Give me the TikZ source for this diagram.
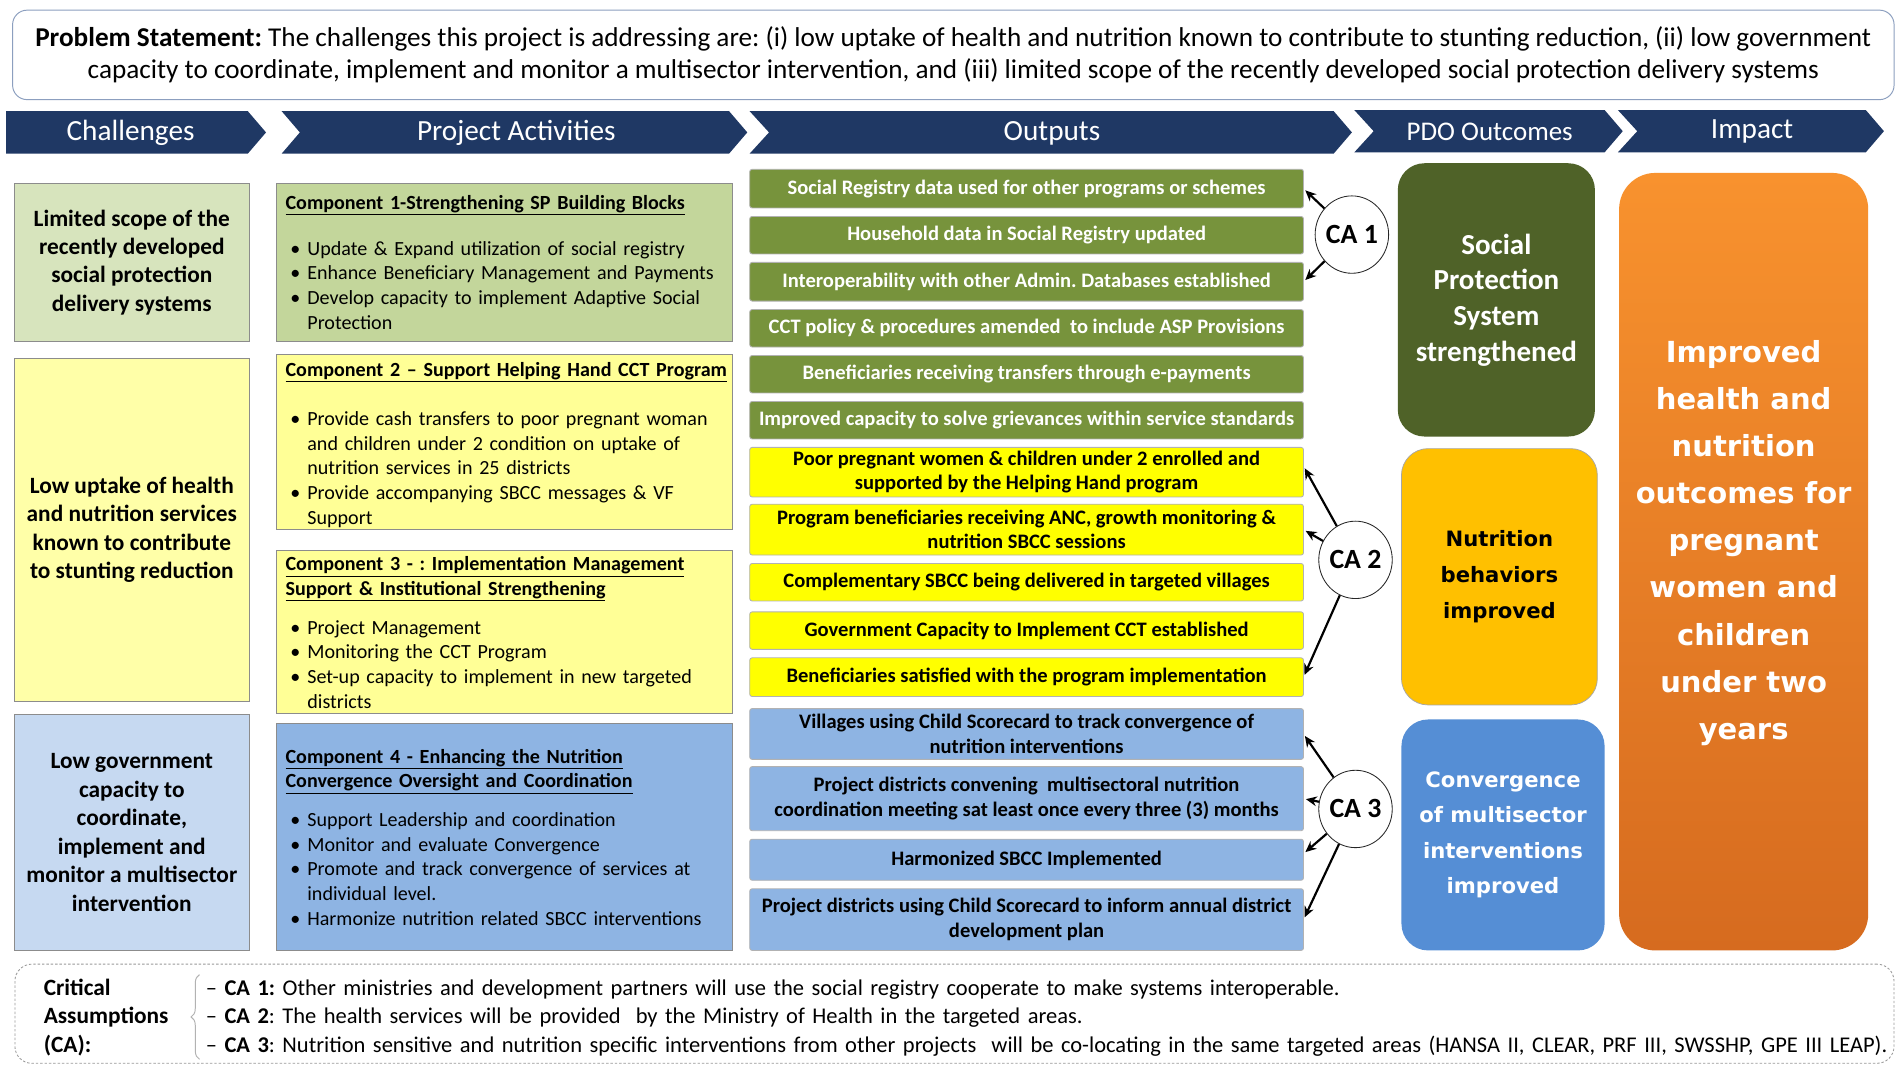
\documentclass[tikz,border=0pt]{standalone}
\usepackage{fontspec}
\setmainfont{Carlito}
\newfontfamily\dvs{DejaVu Sans}
\usetikzlibrary{shapes.geometric,arrows.meta,decorations.pathreplacing,shadings}

\definecolor{navy}{HTML}{1F3864}
\definecolor{probline}{HTML}{8C9FBF}
\definecolor{chgreen}{HTML}{D7E4BD}
\definecolor{chyellow}{HTML}{FFFFA8}
\definecolor{chblue}{HTML}{C6D9F1}
\definecolor{acgreen}{HTML}{C3D69B}
\definecolor{acyellow}{HTML}{FFFF96}
\definecolor{acblue}{HTML}{8EB4E3}
\definecolor{ougreen}{HTML}{77933C}
\definecolor{ouyellow}{HTML}{FFFF00}
\definecolor{oublue}{HTML}{8EB4E3}
\definecolor{pdogreen}{HTML}{4F6228}
\definecolor{pdoyellow}{HTML}{FFC000}
\definecolor{pdoblue}{HTML}{558ED5}
\definecolor{imptop}{HTML}{F8922E}
\definecolor{impbot}{HTML}{D66B1F}

\newcommand{\fs}[2]{\fontsize{#1}{#2}\selectfont}
\newcommand{\bul}{\makebox[18pt][l]{\hspace{4pt}\textbullet}}
\newcommand{\ind}{\hspace*{18pt}}
\frenchspacing

\begin{document}
\begin{tikzpicture}[x=1pt,y=-1pt,
  box/.style={draw=black!45, line width=0.7pt, inner sep=0pt, outer sep=0pt,
    anchor=north west, align=center},
  chbox/.style={box, minimum width=194pt, font=\bfseries\fs{19.3}{23.5}},
  acbox/.style={box, minimum width=377pt},
  actext/.style={anchor=base west, inner sep=0pt, text width=365pt, align=left,
    font=\fs{16.6}{20.4}},
  outbox/.style={box, draw=black!30, rounded corners=2pt, minimum width=458pt,
    font=\bfseries\fs{17}{20.2}},
  pdo/.style={inner sep=0pt, outer sep=0pt, anchor=north west, align=center,
    rounded corners=22pt},
  ca/.style={ellipse, draw=black!85, fill=white, line width=0.7pt,
    minimum width=60pt, minimum height=64pt, inner sep=0pt,
    font=\bfseries\fs{23}{26}},
  arr/.style={-{Stealth[length=9pt,width=8pt]}, line width=1.8pt, shorten >=2pt},
  head/.style={text=white, inner sep=0pt, font=\fs{24.2}{28}}
]
\useasboundingbox (0,0) rectangle (1568,881);
\fill[white] (0,0) rectangle (1568,881);

% problem statement
\node[draw=probline, line width=0.8pt, rounded corners=12pt, anchor=north west,
  minimum width=1556pt, minimum height=74pt, inner sep=0pt, align=center,
  font=\fs{22.5}{27}] (prob) at (10,8)
  {\textbf{Problem Statement:} The challenges this project is addressing are: (i) low uptake of health and nutrition known to contribute to stunting reduction, (ii) low government\\
   capacity to coordinate, implement and monitor a multisector intervention, and (iii) limited scope of the recently developed social protection delivery systems};

% header chevrons
\fill[navy] (5,92) -- (205,92) -- (220,109.5) -- (205,127) -- (5,127) -- cycle;
\fill[navy] (233,92) -- (603,92) -- (618,109.5) -- (603,127) -- (233,127) -- (248,109.5) -- cycle;
\fill[navy] (620,92) -- (1103,92) -- (1118,109.5) -- (1103,127) -- (620,127) -- (636,109.5) -- cycle;
\fill[navy] (1120,91) -- (1327,91) -- (1342,108.5) -- (1327,126) -- (1120,126) -- (1136,108.5) -- cycle;
\fill[navy] (1338,91) -- (1543,91) -- (1558,108.5) -- (1543,126) -- (1338,126) -- (1354,108.5) -- cycle;
\node[head] (h1) at (108,110) {Challenges};
\node[head] (h2) at (427,110) {Project Activities};
\node[head] (h3) at (870,110) {Outputs};
\node[head, font=\fs{22.3}{26}] (h4) at (1232,109) {PDO Outcomes};
\node[head] (h5) at (1449,109) {Impact};

% challenges
\node[chbox, fill=chgreen, minimum height=130pt] (c1) at (12,152)
  {Limited scope of the\\recently developed\\social protection\\delivery systems};
\node[chbox, fill=chyellow, minimum height=284pt] (c2) at (12,296)
  {Low uptake of health\\and nutrition services\\known to contribute\\to stunting reduction};
\node[chbox, fill=chblue, minimum height=195pt] (c3) at (12,591)
  {Low government\\capacity to\\coordinate,\\implement and\\monitor a multisector\\intervention};

% project activities
\node[acbox, fill=acgreen, minimum height=130pt] (a1) at (229,152) {};
\node[acbox, fill=acyellow, minimum height=145pt] (a2) at (229,293) {};
\node[acbox, fill=acyellow, minimum height=135pt] (a3) at (229,455) {};
\node[acbox, fill=acblue, minimum height=188pt] (a4) at (229,598) {};

\node[actext] (a1t) at (236,173)
  {\underline{\textbf{Component 1-Strengthening SP Building Blocks}}\\[17.5pt]
   \bul Update \& Expand utilization of social registry\\
   \bul Enhance Beneficiary Management and Payments\\
   \bul Develop capacity to implement Adaptive Social\\
   \ind Protection};
\node[actext] (a2t) at (236,311)
  {\underline{\textbf{Component 2 – Support Helping Hand CCT Program}}\\[20.6pt]
   \bul Provide cash transfers to poor pregnant woman\\
   \ind and children under 2 condition on uptake of\\
   \ind nutrition services in 25 districts\\
   \bul Provide accompanying SBCC messages \& VF\\
   \ind Support};
\node[actext] (a3t) at (236,472)
  {\underline{\textbf{Component 3 - : Implementation Management}}\\
   \underline{\textbf{Support \& Institutional Strengthening}}\\[11.6pt]
   \bul Project Management\\
   \bul Monitoring the CCT Program\\
   \bul Set-up capacity to implement in new targeted\\
   \ind districts};
\node[actext] (a4t) at (236,631)
  {\underline{\textbf{Component 4 - Enhancing the Nutrition}}\\
   \underline{\textbf{Convergence Oversight and Coordination}}\\[11.6pt]
   \bul Support Leadership and coordination\\
   \bul Monitor and evaluate Convergence\\
   \bul Promote and track convergence of services at\\
   \ind individual level.\\
   \bul Harmonize nutrition related SBCC interventions};

% outputs
\node[outbox, fill=ougreen, text=white, minimum height=32pt] (o1) at (620,140)
  {Social Registry data used for other programs or schemes};
\node[outbox, fill=ougreen, text=white, minimum height=31pt] (o2) at (620,179)
  {Household data in Social Registry updated};
\node[outbox, fill=ougreen, text=white, minimum height=32pt] (o3) at (620,217)
  {Interoperability with other Admin. Databases established};
\node[outbox, fill=ougreen, text=white, minimum height=31pt] (o4) at (620,256)
  {CCT policy \& procedures amended\ \ to include ASP Provisions};
\node[outbox, fill=ougreen, text=white, minimum height=31pt] (o5) at (620,294)
  {Beneficiaries receiving transfers through e-payments};
\node[outbox, fill=ougreen, text=white, minimum height=31pt] (o6) at (620,332)
  {Improved capacity to solve grievances within service standards};
\node[outbox, fill=ouyellow, minimum height=41pt] (o7) at (620,370)
  {Poor pregnant women \& children under 2 enrolled and\\supported by the Helping Hand program};
\node[outbox, fill=ouyellow, minimum height=42pt] (o8) at (620,417)
  {Program beneficiaries receiving ANC, growth monitoring \&\\nutrition SBCC sessions};
\node[outbox, fill=ouyellow, minimum height=31pt] (o9) at (620,466)
  {Complementary SBCC being delivered in targeted villages};
\node[outbox, fill=ouyellow, minimum height=31pt] (o10) at (620,506)
  {Government Capacity to Implement CCT established};
\node[outbox, fill=ouyellow, minimum height=32pt] (o11) at (620,544)
  {Beneficiaries satisfied with the program implementation};
\node[outbox, fill=oublue, minimum height=42pt] (o12) at (620,586)
  {Villages using Child Scorecard to track convergence of\\nutrition interventions};
\node[outbox, fill=oublue, minimum height=53pt] (o13) at (620,634)
  {Project districts convening\ \ multisectoral nutrition\\coordination meeting sat least once every three (3) months};
\node[outbox, fill=oublue, minimum height=34pt] (o14) at (620,694)
  {Harmonized SBCC Implemented};
\node[outbox, fill=oublue, minimum height=51pt] (o15) at (620,735)
  {Project districts using Child Scorecard to inform annual district\\development plan};

% critical assumption markers
\node[ca] (ca1) at (1118,194) {CA 1};
\node[ca] (ca2) at (1121,463) {CA 2};
\node[ca] (ca3) at (1121,669) {CA 3};
\draw[arr] (ca1) -- (o1.east);
\draw[arr] (ca1) -- (o3.east);
\draw[arr] (ca2) -- ([yshift=5pt]o7.east);
\draw[arr] (ca2) -- (o8.east);
\draw[arr] (ca2) -- (o11.east);
\draw[arr] (ca3) -- (o12.east);
\draw[arr] (ca3) -- (o13.east);
\draw[arr] (ca3) -- ([yshift=5pt]o14.east);
\draw[arr] (ca3) -- (o15.east);

% PDO outcomes
\node[pdo, fill=pdogreen, text=white, minimum width=163pt, minimum height=226pt,
  font=\bfseries\fs{24}{29.5}] (p1) at (1156,135)
  {Social\\Protection\\System\\strengthened};
\node[pdo, fill=pdoyellow, draw=black!35, line width=0.6pt, minimum width=162pt,
  minimum height=212pt, font=\dvs\bfseries\fs{17.5}{29.5}] (p2) at (1159,371)
  {Nutrition\\behaviors\\improved};
\node[pdo, fill=pdoblue, text=white, minimum width=168pt, minimum height=191pt,
  font=\dvs\bfseries\fs{17.5}{29.2}] (p3) at (1159,595)
  {Convergence\\of multisector\\interventions\\improved};

% impact
\node[pdo, rounded corners=30pt, top color=imptop, bottom color=impbot,
  minimum width=206pt, minimum height=643pt] (imp) at (1339,143) {};
\node[text=white, align=center, inner sep=0pt, font=\dvs\bfseries\fs{24}{39}] (impt)
  at (1442,449)
  {Improved\\health and\\nutrition\\outcomes for\\pregnant\\women and\\children\\under two\\years};

% critical assumptions
\node[draw=black!40, dash pattern=on 2pt off 1.6pt, line width=0.7pt,
  rounded corners=14pt, anchor=north west, minimum width=1554pt,
  minimum height=82pt, inner sep=0pt] (cabox) at (12,797) {};
\node[anchor=base west, inner sep=0pt, text width=130pt, align=left,
  font=\bfseries\fs{19.3}{23.5}] (calabel) at (36,823)
  {Critical\\Assumptions\\(CA):};
\coordinate (brtop) at (165,806);
\coordinate (brbot) at (165,876);
\draw[decorate, decoration={brace, amplitude=7pt}, draw=black!30, line width=0.8pt]
  (brbot) -- (brtop);
\node[anchor=base west, inner sep=0pt, text width=1400pt, align=left,
  font=\fs{18.6}{23.5}] (calines) at (170,823)
  {– \textbf{CA 1:} Other ministries and development partners will use the social registry cooperate to make systems interoperable.\\
   – \textbf{CA 2}: The health services will be provided\ \ by the Ministry of Health in the targeted areas.\\
   – \textbf{CA 3}: Nutrition sensitive and nutrition specific interventions from other projects\ \ will be co-locating in the same targeted areas (HANSA II, CLEAR, PRF III, SWSSHP, GPE III LEAP).};
\end{tikzpicture}
\end{document}
